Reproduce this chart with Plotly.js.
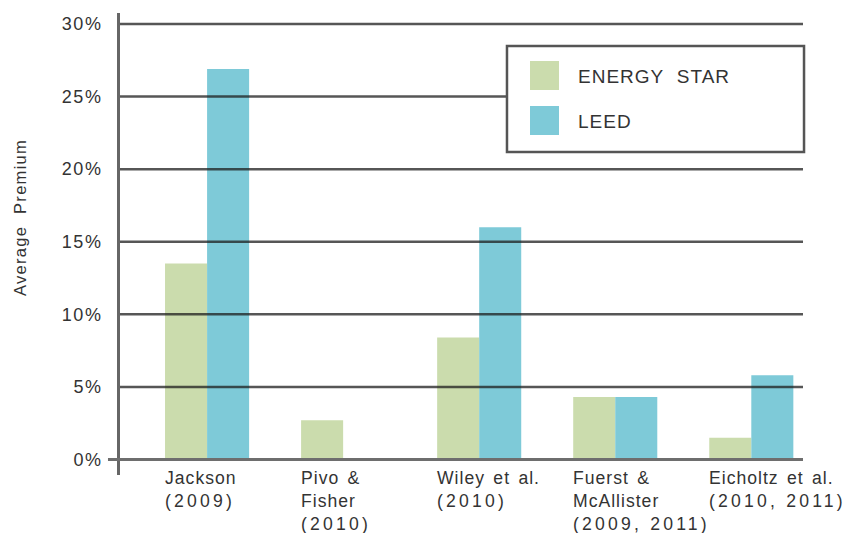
<!DOCTYPE html>
<html>
<head>
<meta charset="utf-8">
<script src="https://cdn.plot.ly/plotly-3.0.1.min.js"></script>
<style>
html,body{margin:0;padding:0;background:#fff;}
#chart{width:860px;height:533px;}
</style>
</head>
<body>
<div id="chart"></div>
<script>
// ---- data ----
var studies = ["Jackson (2009)", "Pivo & Fisher (2010)", "Wiley et al. (2010)", "Fuerst & McAllister (2009, 2011)", "Eicholtz et al. (2010, 2011)"];
var labelNames = [["Jackson"], ["Pivo &", "Fisher"], ["Wiley et al."], ["Fuerst &", "McAllister"], ["Eicholtz et al."]];
var labelYears = ["(2009)", "(2010)", "(2010)", "(2009, 2011)", "(2010, 2011)"];
var seriesNames = ["ENERGY STAR", "LEED"];
var energyStar = [13.5, 2.7, 8.4, 4.3, 1.5];
var leed = [26.9, null, 16.0, 4.3, 5.8];
var yTicks = [0, 5, 10, 15, 20, 25, 30];
var yTickText = ["0%", "5%", "10%", "15%", "20%", "25%", "30%"];
var yTitle = "Average Premium";

var colES = "#cbdcad";
var colLEED = "#7ecad8";
var fontFam = "'Liberation Sans', Arial, sans-serif";
var txtCol = "#333333";

function spaced(t, ls, sp) {
  return '<span style="letter-spacing:' + ls + 'px">' + t.replace(/ /g, sp) + '</span>';
}

var traces = [
  {type: "bar", name: seriesNames[0], x: studies, y: energyStar, marker: {color: colES}, hoverinfo: "y"},
  {type: "bar", name: seriesNames[1], x: studies, y: leed, marker: {color: colLEED}, hoverinfo: "y"}
];

var shapes = [];
// gridlines drawn above bars
yTicks.forEach(function (v) {
  if (v === 0) return;
  shapes.push({type: "line", xref: "paper", yref: "y", x0: 0, x1: 1, y0: v, y1: v,
    line: {color: "rgba(30,30,30,0.75)", width: 2.5}, layer: "above"});
});
// zero line extending left of axis
shapes.push({type: "line", xref: "paper", yref: "y", x0: -0.0176, x1: 1, y0: 0, y1: 0,
  line: {color: "#6e6e6e", width: 3}, layer: "above"});
// legend box
shapes.push({type: "rect", xref: "paper", yref: "paper", x0: 0.5666, x1: 1.0015, y0: 0.6991, y1: 0.9286,
  fillcolor: "#ffffff", line: {color: "#555555", width: 2.5}, layer: "above"});
// legend swatches
var swW = 29 / 683, swH = 29 / 462;
var swX = (530 - 120) / 683;
var swY = [(475 - 90) / 462, (475 - 135) / 462];
[colES, colLEED].forEach(function (c, i) {
  shapes.push({type: "rect", xref: "paper", yref: "paper", x0: swX, x1: swX + swW, y0: swY[i], y1: swY[i] + swH,
    fillcolor: c, line: {width: 0}, layer: "above"});
});

var annotations = [];
// legend texts
var legTextY = [(475 - 77) / 462, (475 - 122) / 462];
seriesNames.forEach(function (n, i) {
  annotations.push({xref: "paper", yref: "paper", x: (576 - 120) / 683, y: legTextY[i], xanchor: "left", yanchor: "middle",
    text: spaced(n, 1, "\u00a0\u00a0"), showarrow: false, font: {family: fontFam, size: 19, color: txtCol}});
});
// category labels (left aligned with first bar of group)
studies.forEach(function (s, i) {
  var lines = labelNames[i].map(function (l) { return spaced(l, 1, "\u00a0\u200a"); });
  lines.push(spaced(labelYears[i], 3.2, "\u00a0"));
  annotations.push({xref: "x", yref: "paper", x: s, y: 0.02, xanchor: "left", yanchor: "top", xshift: -44,
    align: "left", text: lines.join("<br>"), showarrow: false,
    font: {family: fontFam, size: 17.6, color: txtCol}});
});
// y title
annotations.push({xref: "paper", yref: "paper", x: (20 - 120) / 683, y: (475 - 218) / 462, xanchor: "center", yanchor: "middle",
  textangle: -90, text: spaced(yTitle, 1.3, "\u00a0\u00a0"), showarrow: false, font: {family: fontFam, size: 16.5, color: txtCol}});

var layout = {
  width: 860, height: 533,
  margin: {l: 120, r: 57, t: 13, b: 58, pad: 0},
  paper_bgcolor: "#ffffff", plot_bgcolor: "#ffffff",
  barmode: "group", bargap: 0.382, bargroupgap: 0,
  showlegend: false,
  font: {family: fontFam, color: txtCol},
  xaxis: {type: "category", range: [-0.64, 4.38], showticklabels: false, showgrid: false, zeroline: false, showline: false, ticks: "", fixedrange: true},
  yaxis: {range: [-1.07, 30.76], tickvals: yTicks, ticktext: yTickText.map(function (t) { return spaced(t, 1.5, " "); }),
    showgrid: false, zeroline: false,
    showline: true, linecolor: "#666666", linewidth: 3, ticks: "", ticklabelstandoff: 11,
    tickfont: {family: fontFam, size: 18, color: txtCol}, fixedrange: true},
  shapes: shapes,
  annotations: annotations
};

Plotly.newPlot("chart", traces, layout, {displayModeBar: false, staticPlot: true});
</script>
</body>
</html>
